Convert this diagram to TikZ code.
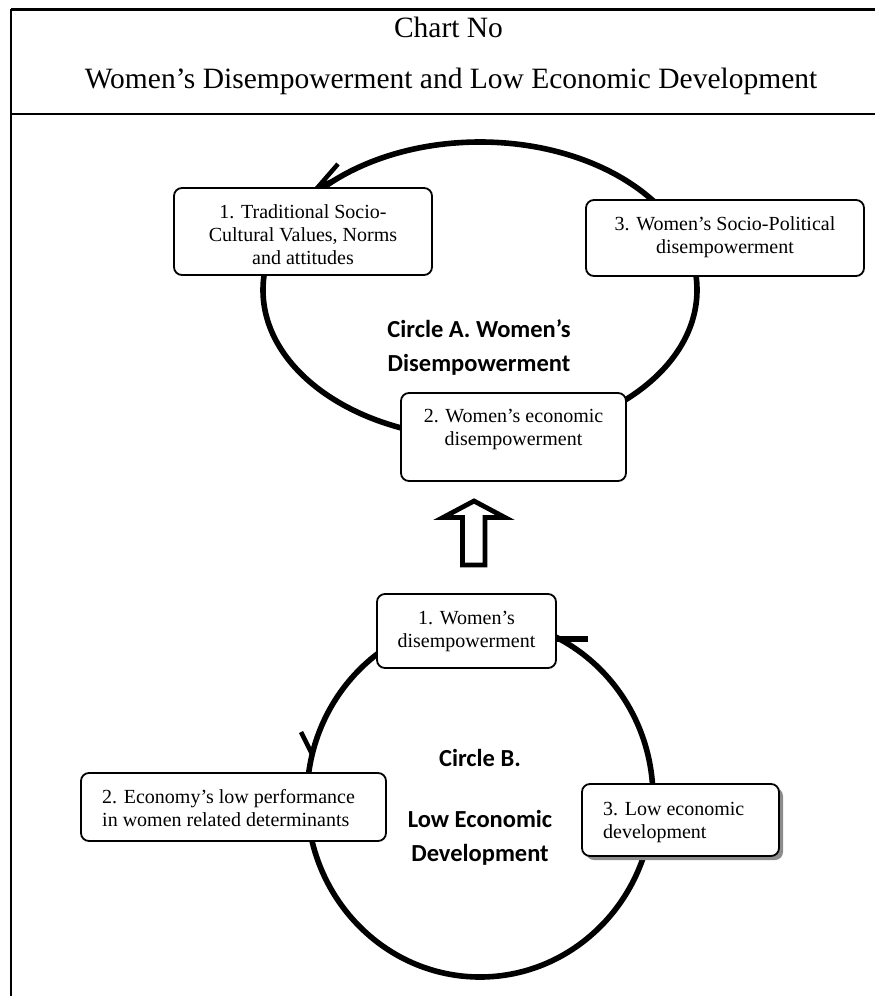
\documentclass[tikz,border=0pt]{standalone}
\usepackage{fontspec}
\setmainfont{Liberation Serif}
\newfontfamily\calibfont{Carlito}
\usetikzlibrary{shadows}
\begin{document}
\begin{tikzpicture}[x=1pt,y=-1pt,
  circ/.style={line width=5.6pt},
  frame/.style={line width=1.8pt},
  box/.style={draw, line width=1.8pt, rounded corners=8pt, fill=white, inner sep=0pt},
  shadowbox/.style={box, drop shadow={shadow xshift=4pt, shadow yshift=-4pt, fill=black!45, opacity=1}},
  btxt/.style={font=\fontsize{20}{23}\selectfont, inner sep=0pt},
  ctxt/.style={font=\calibfont\bfseries\fontsize{24.5}{34}\selectfont, inner sep=0pt, align=center, anchor=north},
  ttl/.style={font=\fontsize{29.5}{35}\selectfont, inner sep=0pt, anchor=base},
  barb/.style={line width=4.5pt},
  blockarrow/.style={line width=4.8pt, fill=white}]
\useasboundingbox (0,0) rectangle (875,996);
% frame
\coordinate (tl) at (11,9);
\coordinate (tr) at (875,9);
\coordinate (bl) at (11,996);
\coordinate (sl) at (11,114);
\coordinate (sr) at (875,114);
\draw[line width=3pt] (tl) -- (tr);
\draw[frame] (tl) -- (bl);
\draw[frame] (sl) -- (sr);
% titles
\node[ttl] (title1) at (448.5,37) {Chart No};
\node[ttl] (title2) at (451,88) {Women’s Disempowerment and Low Economic Development};
% circle A
\coordinate (cA) at (480,290);
\draw[circ] (cA) ellipse [x radius=217, y radius=148];
\coordinate (tipA) at (318,187);
\coordinate (barbA) at (338,164);
\coordinate (onA) at (335,180);
\draw[barb] (barbA) -- (tipA) -- (onA);
% circle B
\coordinate (cB) at (480,798);
\draw[circ] (cB) ellipse [x radius=173, y radius=179];
\coordinate (tipB) at (312,754);
\coordinate (barbB) at (301,732);
\coordinate (onB) at (317,737);
\draw[barb] (barbB) -- (tipB) -- (onB);
\coordinate (barL) at (557,639);
\coordinate (barR) at (588,639);
\draw[line width=5.6pt] (barL) -- (barR);
% block arrow
\coordinate (ba1) at (474,501);
\coordinate (ba2) at (505,517.5);
\coordinate (ba3) at (485,517.5);
\coordinate (ba4) at (485,565);
\coordinate (ba5) at (462.5,565);
\coordinate (ba6) at (462.5,517.5);
\coordinate (ba7) at (443,517.5);
\draw[blockarrow] (ba1) -- (ba2) -- (ba3) -- (ba4) -- (ba5) -- (ba6) -- (ba7) -- cycle;
% boxes
\node[box, minimum width=258pt, minimum height=87pt] (b1A) at (303,231.5) {};
\node[box, minimum width=278pt, minimum height=76pt] (b3A) at (725,238) {};
\node[box, minimum width=225pt, minimum height=88pt] (b2A) at (513.5,437) {};
\node[box, minimum width=179pt, minimum height=74pt] (b1B) at (466.5,631) {};
\node[box, minimum width=305pt, minimum height=68pt] (b2B) at (233.5,807) {};
\node[shadowbox, minimum width=197pt, minimum height=72pt] (b3B) at (680.5,820) {};
% box texts
\node[btxt, anchor=north, align=center] (t1A) at (303,201.9) {\strut 1. Traditional Socio-\\\strut Cultural Values, Norms\\\strut and attitudes};
\node[btxt, anchor=north, align=center] (t3A) at (725,213.9) {\strut 3. Women’s Socio-Political\\\strut disempowerment};
\node[btxt, anchor=north, align=center] (t2A) at (513.5,406.4) {\strut 2. Women’s economic\\\strut disempowerment};
\node[btxt, anchor=north, align=center] (t1B) at (466.5,607.9) {\strut 1. Women’s\\\strut disempowerment};
\node[btxt, anchor=north west, align=left] (t2B) at (102,786.9) {\strut 2. Economy’s low performance\\\strut in women related determinants};
\node[btxt, anchor=north west, align=left] (t3B) at (603,798.9) {\strut 3. Low economic\\\strut development};
% circle labels
\node[ctxt] (lA) at (479,313.2) {\strut Circle A. Women’s\\\strut Disempowerment};
\node[ctxt] (lB) at (480,742.2) {\strut Circle B.\\[27pt]\strut Low Economic\\\strut Development};
\end{tikzpicture}
\end{document}
